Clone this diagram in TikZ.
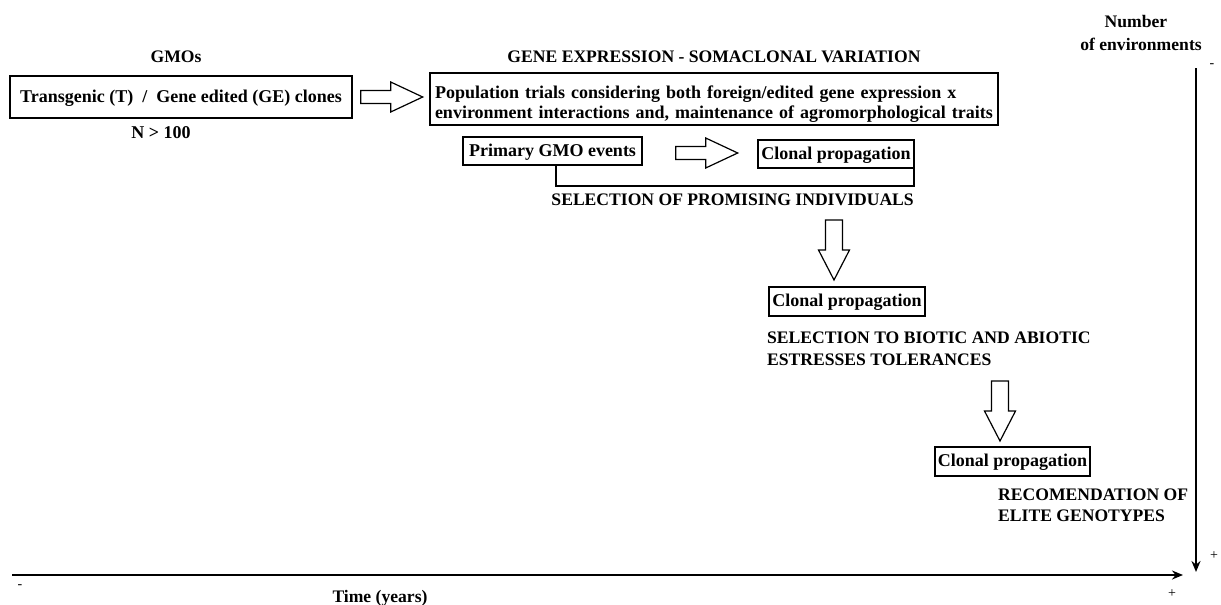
\documentclass[tikz,border=0pt]{standalone}
\usepackage{fontspec}
\setmainfont{Liberation Serif}
\usetikzlibrary{calc,arrows.meta}
\newcommand\fs{\fontsize{18}{20}\selectfont}
\newcommand\fc{\fontsize{17.6}{20}\selectfont}
\begin{document}
\begin{tikzpicture}[x=1pt,y=-1pt,
  box/.style={draw,line width=1.4pt,inner sep=0pt,font=\fs\bfseries,text height=13pt,text depth=3pt},
  lbl/.style={font=\fc\bfseries,inner sep=0pt},
  sign/.style={font=\fontsize{14}{16}\selectfont,inner sep=0pt},
  barrow/.style={draw,line width=1.2pt,fill=white,line join=miter},
  axis/.style={line width=2pt,-{Stealth[length=11pt,width=9pt]}},
  rarrow/.pic={\draw[barrow] (0,-6.5)--(30,-6.5)--(30,-15)--(62,0)--(30,15)--(30,6.5)--(0,6.5)--cycle;},
  darrow/.pic={\draw[barrow] (-8.5,0)--(8.5,0)--(8.5,30)--(15.5,30)--(0,60)--(-15.5,30)--(-8.5,30)--cycle;}]
\useasboundingbox (0,0) rectangle (1221,605);

% headings
\node[lbl] (gmos) at (176,57) {GMOs};
\node[lbl] (title) at (714,57) {GENE EXPRESSION - SOMACLONAL VARIATION};
\node[lbl,align=center] (numenv) at (1141,33) {\hspace*{-10pt}Number\\[3pt] of environments};

% boxes
\node[box,minimum width=342,minimum height=42] (trans) at (181,97) {Transgenic (T)\ \ /\ \ Gene edited (GE) clones};
\node[lbl,font=\fs\bfseries] (n100) at (161,133) {N {\textgreater} 100};
\node[draw,line width=1.4pt,inner ysep=0pt,inner xsep=5pt,text width=558,align=left,minimum height=52,font=\fs\bfseries] (pop) at (714,99)
  {\rule{0pt}{22pt}Population trials considering both foreign/edited gene expression x\\ environment interactions and, maintenance of agromorphological traits};
\node[box,minimum width=179,minimum height=28] (prim) at (552.5,151) {Primary GMO events};
\node[box,minimum width=156,minimum height=28] (clon1) at (836,154) {Clonal propagation};
\node[box,minimum width=156,minimum height=29] (clon2) at (847,301.5) {Clonal propagation};
\node[box,minimum width=155,minimum height=29] (clon3) at (1012.5,461.5) {Clonal propagation};

% labels
\node[lbl,anchor=east] (selprom) at (914,200) {SELECTION OF PROMISING INDIVIDUALS};
\node[lbl,anchor=north west,align=left,font=\fontsize{17.6}{22}\selectfont\bfseries] (selbio) at (767,332) {SELECTION TO BIOTIC AND ABIOTIC\\ESTRESSES TOLERANCES};
\node[lbl,anchor=north west,align=left,font=\fontsize{17.6}{21}\selectfont\bfseries] (recom) at (998,489) {RECOMENDATION OF\\ELITE GENOTYPES};

% block arrows
\pic at ($(trans.east)+(8,0)$) {rarrow};
\pic at ($(prim.east)+(33,2)$) {rarrow};
\pic at (834,220) {darrow};
\pic at (1000,381) {darrow};

% bracket
\coordinate (bl) at (prim.south -| 556,0);
\coordinate (br) at (clon1.south -| 914,0);
\draw[line width=1.4pt] (bl) -- (556,186) -- (914,186) -- (br);

% axes
\coordinate (h0) at (12,575);
\coordinate (h1) at (1183,575);
\coordinate (v0) at (1196,68);
\coordinate (v1) at (1196,572);
\draw[axis] (h0) -- (h1);
\draw[axis] (v0) -- (v1);
\node[sign] (hm) at (20,587) {-};
\node[sign] (hp) at (1172,594) {+};
\node[sign] (vm) at (1212,66) {-};
\node[sign] (vp) at (1214,556) {+};
\node[lbl] (time) at (380,598) {Time (years)};
\end{tikzpicture}
\end{document}
